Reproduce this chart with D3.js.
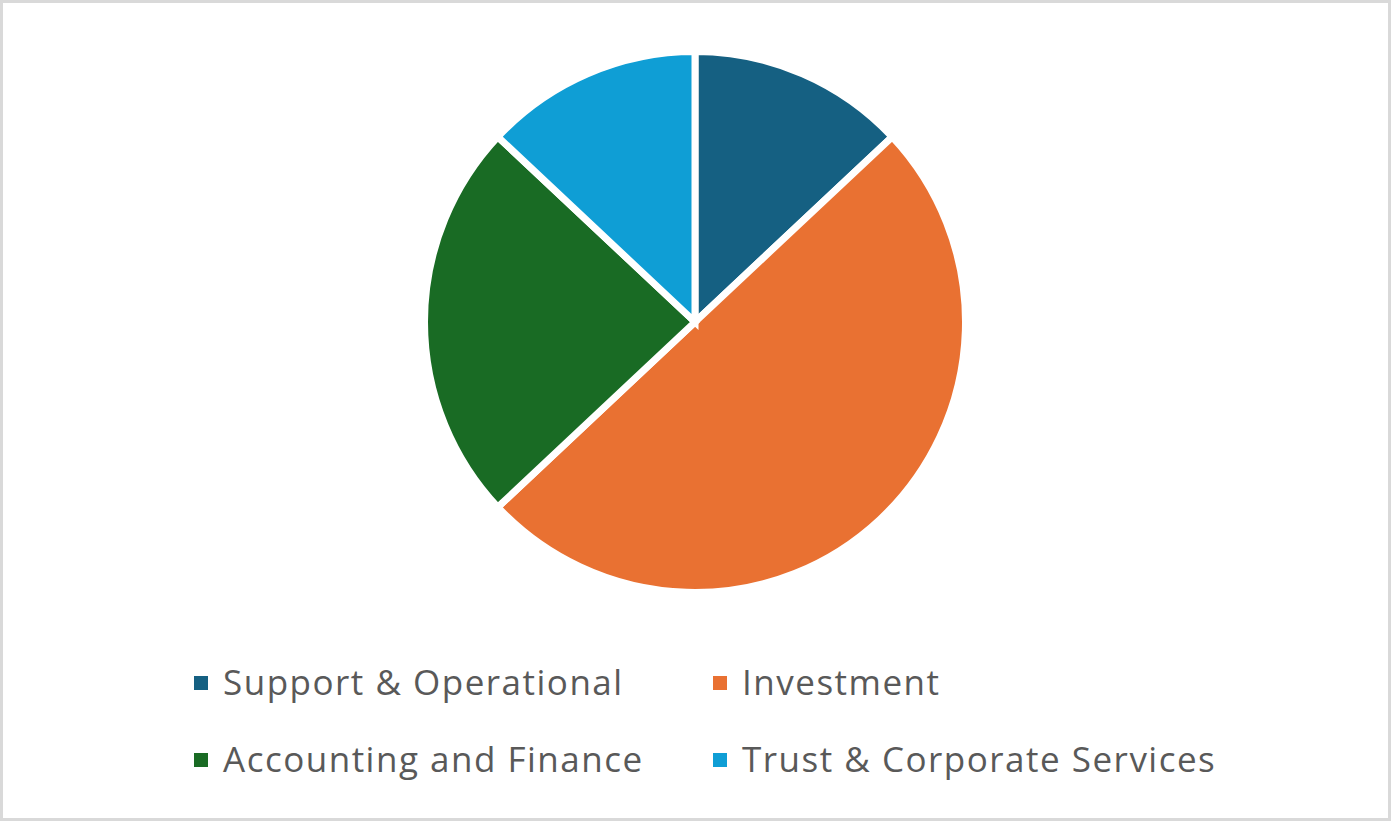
<!DOCTYPE html>
<html>
<head>
<meta charset="utf-8">
<script src="https://cdn.jsdelivr.net/npm/d3@7"></script>
<style>
  html, body { margin: 0; padding: 0; background: #fff; }
  svg { display: block; }
</style>
</head>
<body>
<svg id="chart" width="1391" height="821"></svg>
<script>
const categories = ["Support & Operational", "Investment", "Accounting and Finance", "Trust & Corporate Services"];
const values = [13, 50, 24, 13];
const colors = ["#156082", "#E97132", "#196B24", "#0F9ED5"];

const W = 1391, H = 821;
const svg = d3.select("#chart");

svg.append("rect")
  .attr("x", 1.5).attr("y", 1.5)
  .attr("width", W - 3).attr("height", H - 3)
  .attr("fill", "#fff")
  .attr("stroke", "#d9d9d9")
  .attr("stroke-width", 3);

const cx = 695, cy = 322, r = 270.5;
const data = categories.map((c, i) => ({ name: c, value: values[i], color: colors[i] }));
const pie = d3.pie().value(d => d.value).sort(null);
const arc = d3.arc().innerRadius(0).outerRadius(r);

const g = svg.append("g").attr("transform", `translate(${cx},${cy})`);
g.selectAll("path")
  .data(pie(data))
  .join("path")
  .attr("d", arc)
  .attr("fill", d => d.data.color)
  .attr("stroke", "#fff")
  .attr("stroke-width", 7)
  .attr("stroke-linejoin", "miter");

// Legend
const colX = [194, 713];
const rowY = [683, 760];
const legend = svg.append("g");
data.forEach((d, i) => {
  const x = colX[i % 2], y = rowY[Math.floor(i / 2)];
  const item = legend.append("g").attr("transform", `translate(${x},${y})`);
  item.append("rect")
    .attr("x", 0).attr("y", -7)
    .attr("width", 14).attr("height", 14)
    .attr("fill", d.color);
  item.append("text")
    .attr("x", 29).attr("y", 0)
    .attr("dy", "0.33em")
    .attr("font-family", "'Open Sans', sans-serif")
    .attr("font-size", 35)
    .attr("letter-spacing", 1.5)
    .attr("fill", "#595959")
    .text(d.name);
});
</script>
</body>
</html>
